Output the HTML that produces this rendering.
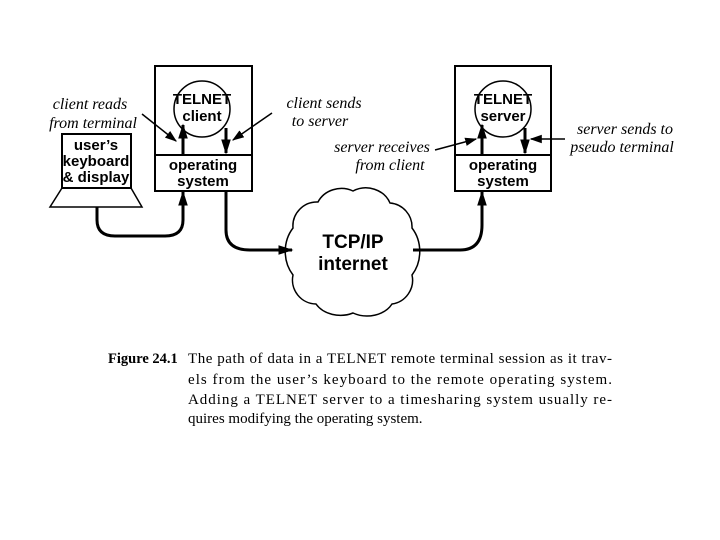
<!DOCTYPE html>
<html><head><style>
body{margin:0;background:#fff;width:720px;height:540px;overflow:hidden}
svg{display:block}
.ss{font-family:"Liberation Sans",sans-serif;font-weight:bold;font-size:15px}
.it{font-family:"Liberation Serif",serif;font-style:italic;font-size:16px}
</style></head><body>
<svg width="720" height="540" viewBox="0 0 720 540">
<defs>
<marker id="a" viewBox="0 0 10 10" refX="9" refY="5" markerWidth="12" markerHeight="12" markerUnits="userSpaceOnUse" orient="auto"><path d="M0,1.5 L10,5 L0,8.5z" fill="#000"/></marker>
<marker id="b" viewBox="0 0 10 10" refX="9" refY="5" markerWidth="15" markerHeight="15" markerUnits="userSpaceOnUse" orient="auto"><path d="M0,1.8 L10,5 L0,8.2z" fill="#000"/></marker>
</defs>
<g fill="none" stroke="#000" stroke-width="2">
<rect x="155" y="66" width="97" height="125"/>
<line x1="155" y1="155" x2="252" y2="155"/>
<circle cx="202" cy="109" r="28" stroke-width="1.5"/>
<rect x="455" y="66" width="96" height="125"/>
<line x1="455" y1="155" x2="551" y2="155"/>
<circle cx="503" cy="109" r="28" stroke-width="1.5"/>
<rect x="62" y="134" width="69" height="54"/>
<path d="M62,188 L131,188 L142,207 L50,207 Z" stroke-width="1.5"/>
<path d="M318,202 A26,24 0 0 1 353,191 A26,24 0 0 1 390,203 A24,24 0 0 1 412,228 A32,36 0 0 1 412,275 A24,24 0 0 1 392,304 A28,22 0 0 1 353,313 A28,22 0 0 1 316,304 A24,24 0 0 1 293,275 A32,36 0 0 1 293,228 A24,24 0 0 1 318,202 Z" stroke-width="1.5"/>
</g>
<g fill="none" stroke="#000" stroke-width="3">
<line x1="183" y1="155" x2="183" y2="125" marker-end="url(#b)"/>
<line x1="226" y1="128" x2="226" y2="153" marker-end="url(#b)"/>
<line x1="482" y1="155" x2="482" y2="125" marker-end="url(#b)"/>
<line x1="525" y1="128" x2="525" y2="153" marker-end="url(#b)"/>
<path d="M97,207 L97,220 Q97,236 115,236 L165,236 Q183,236 183,220 L183,192" marker-end="url(#b)"/>
<path d="M226,191 L226,230 Q226,250 250,250 L292,250" marker-end="url(#b)"/>
<path d="M413,250 L460,250 Q482,250 482,225 L482,192" marker-end="url(#b)"/>
</g>
<g fill="none" stroke="#000" stroke-width="1.5">
<line x1="142" y1="114" x2="176" y2="141" marker-end="url(#a)"/>
<line x1="272" y1="113" x2="233" y2="140" marker-end="url(#a)"/>
<line x1="435" y1="150" x2="476" y2="139" marker-end="url(#a)"/>
<line x1="565" y1="139" x2="531" y2="139" marker-end="url(#a)"/>
</g>
<g class="ss" text-anchor="middle">
<text x="202" y="104">TELNET</text><text x="202" y="121">client</text>
<text x="503" y="104">TELNET</text><text x="503" y="121">server</text>
<text x="203" y="170">operating</text><text x="203" y="186">system</text>
<text x="503" y="170">operating</text><text x="503" y="186">system</text>
<text x="96" y="150">user’s</text><text x="96" y="166">keyboard</text><text x="96" y="182">&amp; display</text>
<text x="353" y="248" font-size="19">TCP/IP</text><text x="353" y="270" font-size="19">internet</text>
</g>
<g class="it" text-anchor="middle">
<text x="90" y="109">client reads</text><text x="93" y="128">from terminal</text>
<text x="324" y="108">client sends</text><text x="320" y="126">to server</text>
<text x="382" y="152">server receives</text><text x="390" y="170">from client</text>
<text x="625" y="134">server sends to</text><text x="622" y="152">pseudo terminal</text>
</g>
<g font-family="Liberation Serif,serif" font-size="15">
<text x="108" y="363" font-weight="bold" font-size="14.5">Figure 24.1</text>
<text x="188" y="363" textLength="424" lengthAdjust="spacing">The path of data in a TELNET remote terminal session as it trav-</text>
<text x="188" y="384" textLength="424" lengthAdjust="spacing">els from the user’s keyboard to the remote operating system.</text>
<text x="188" y="404" textLength="424" lengthAdjust="spacing">Adding a TELNET server to a timesharing system usually re-</text>
<text x="188" y="423">quires modifying the operating system.</text>
</g>
</svg>
</body></html>
